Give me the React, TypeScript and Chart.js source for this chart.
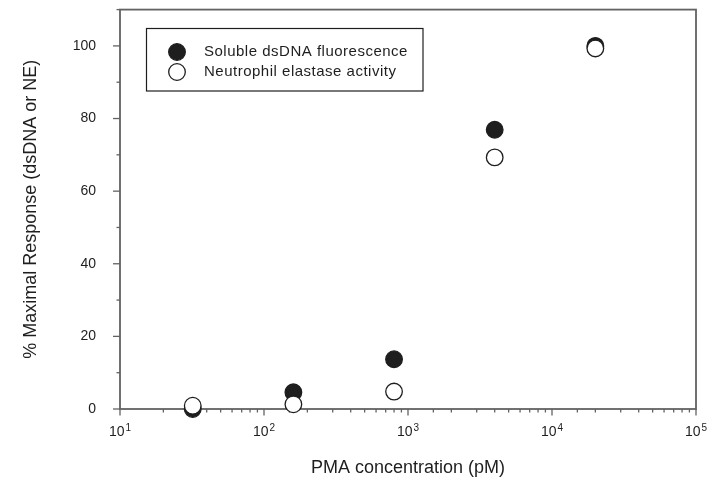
import React, { useEffect, useRef } from "react";
import { Chart, registerables } from "chart.js";

Chart.register(...registerables);

const concentrations = [32, 160, 800, 4000, 20000];
const dsDNA = [0, 4.6, 13.7, 76.9, 100];
const elastase = [0.9, 1.3, 4.8, 69.3, 99.3];
const seriesLabels = ["Soluble dsDNA fluorescence", "Neutrophil elastase activity"];
const xTitle = "PMA concentration (pM)";
const yTitle = "% Maximal Response (dsDNA or NE)";

const FONT = "'Liberation Sans', Arial, Helvetica, sans-serif";
const AXIS = "#626262";
const INK = "#1e1e1e";

const isPow10 = (v: number) => {
  const l = Math.log10(v);
  return Math.abs(l - Math.round(l)) < 1e-9;
};

const framePlugin = {
  id: "frame",
  beforeDatasetsDraw(chart: any) {
    const { ctx, chartArea: a, scales } = chart;
    const x = scales.x;
    const y = scales.y;
    ctx.save();
    ctx.strokeStyle = AXIS;
    ctx.lineWidth = 1.8;
    ctx.strokeRect(a.left, a.top, a.right - a.left, a.bottom - a.top);
    ctx.lineWidth = 1.3;
    for (const t of x.ticks) {
      const px = x.getPixelForValue(t.value);
      const len = isPow10(t.value) ? 6.5 : 3.5;
      ctx.beginPath();
      ctx.moveTo(px, a.bottom);
      ctx.lineTo(px, a.bottom + len);
      ctx.stroke();
    }
    for (const t of y.ticks) {
      const py = y.getPixelForValue(t.value);
      const len = t.value % 20 === 0 ? 7 : 3.5;
      ctx.beginPath();
      ctx.moveTo(a.left, py);
      ctx.lineTo(a.left - len, py);
      ctx.stroke();
    }
    // x tick labels with superscript exponents
    ctx.fillStyle = INK;
    ctx.textBaseline = "alphabetic";
    for (const t of x.ticks) {
      if (!isPow10(t.value)) continue;
      const exp = String(Math.round(Math.log10(t.value)));
      const px = x.getPixelForValue(t.value);
      ctx.font = `14px ${FONT}`;
      const wBase = ctx.measureText("10").width;
      ctx.font = `10px ${FONT}`;
      const wExp = ctx.measureText(exp).width;
      const start = px - (wBase + 1 + wExp) / 2;
      const base = a.bottom + 27;
      ctx.font = `14px ${FONT}`;
      ctx.textAlign = "left";
      ctx.fillText("10", start, base);
      ctx.font = `10px ${FONT}`;
      ctx.fillText(exp, start + wBase + 1, base - 5.5);
    }
    ctx.restore();
  },
};

const legendPlugin = {
  id: "boxLegend",
  afterDatasetsDraw(chart: any) {
    const { ctx } = chart;
    ctx.save();
    ctx.strokeStyle = INK;
    ctx.lineWidth = 1.2;
    ctx.strokeRect(146.5, 28.5, 276.5, 62.5);
    const rows = [
      { y: 52, fill: INK },
      { y: 72, fill: "#ffffff" },
    ];
    rows.forEach((r, i) => {
      ctx.beginPath();
      ctx.arc(177, r.y, 8.3, 0, Math.PI * 2);
      ctx.fillStyle = r.fill;
      ctx.fill();
      ctx.strokeStyle = INK;
      ctx.lineWidth = 1.3;
      ctx.stroke();
      ctx.fillStyle = INK;
      ctx.font = `15px ${FONT}`;
      (ctx as any).letterSpacing = "0.5px";
      ctx.textAlign = "left";
      ctx.textBaseline = "middle";
      ctx.fillText(seriesLabels[i], 204, r.y);
    });
    ctx.restore();
  },
};

export default function App() {
  const ref = useRef<HTMLCanvasElement | null>(null);
  useEffect(() => {
    if (!ref.current) return;
    const chart = new Chart(ref.current, {
      type: "scatter",
      data: {
        datasets: [
          {
            label: seriesLabels[0],
            data: concentrations.map((c, i) => ({ x: c, y: dsDNA[i] })),
            backgroundColor: INK,
            borderColor: INK,
            borderWidth: 1.3,
            pointRadius: 8.3,
            order: 2,
            clip: false as any,
          },
          {
            label: seriesLabels[1],
            data: concentrations.map((c, i) => ({ x: c, y: elastase[i] })),
            backgroundColor: "#ffffff",
            borderColor: INK,
            borderWidth: 1.3,
            pointRadius: 8.3,
            order: 1,
            clip: false as any,
          },
        ],
      },
      options: {
        animation: false,
        responsive: false,
        maintainAspectRatio: false,
        layout: { padding: { left: 0, top: 5.5, right: 17, bottom: 0 } },
        plugins: { legend: { display: false }, tooltip: { enabled: false } },
        events: [],
        scales: {
          x: {
            type: "logarithmic",
            min: 10,
            max: 100000,
            grid: { display: false },
            border: { display: false },
            ticks: { display: false, autoSkip: false },
            title: {
              display: true,
              text: xTitle,
              color: INK,
              font: { family: FONT, size: 18 },
              padding: { top: 0, bottom: 0 },
            },
            afterFit(scale: any) {
              scale.height = 70;
              scale.paddingLeft = 0;
              scale.paddingRight = 0;
            },
          },
          y: {
            type: "linear",
            min: 0,
            max: 110,
            grid: { display: false },
            border: { display: false },
            ticks: {
              stepSize: 10,
              autoSkip: false,
              padding: 16,
              color: INK,
              font: { family: FONT, size: 14 },
              callback: (v: any) => (Number(v) % 20 === 0 ? String(v) : ""),
            },
            title: {
              display: true,
              text: yTitle,
              color: INK,
              font: { family: FONT, size: 18 },
              padding: { top: 20, bottom: 0 },
            },
            afterFit(scale: any) {
              scale.width = 120;
              scale.paddingTop = 0;
              scale.paddingBottom = 0;
            },
          },
        },
      },
      plugins: [framePlugin, legendPlugin],
    });
    return () => chart.destroy();
  }, []);
  return (
    <div style={{ position: "fixed", left: 0, top: 0, width: 713, height: 479, background: "#fff" }}>
      <canvas ref={ref} width={713} height={479} style={{ width: 713, height: 479 }} />
    </div>
  );
}
